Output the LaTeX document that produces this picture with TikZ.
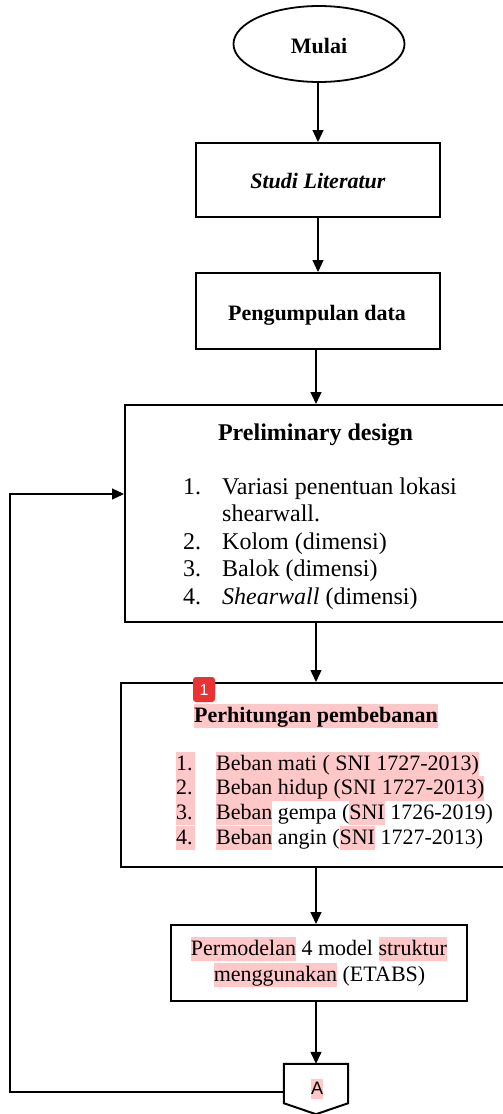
\documentclass[tikz,border=0pt]{standalone}
\usepackage{fontspec}
\setmainfont{Liberation Serif}
\setsansfont{Liberation Sans}
\usetikzlibrary{arrows.meta,shapes.geometric,calc}
\definecolor{hlpink}{RGB}{255,200,200}
\definecolor{badgered}{RGB}{234,50,50}
\newcommand{\hlt}[1]{{\setlength{\fboxsep}{0pt}\colorbox{hlpink}{\rule[-0.27em]{0pt}{1.1em}#1}}}
\begin{document}
\begin{tikzpicture}[x=1pt,y=-1pt,
  boxst/.style={draw, line width=2pt, inner sep=0pt},
  arr/.style={line width=1.3pt, -{Triangle[length=12pt,width=11pt]}},
  txt/.style={inner sep=0pt, anchor=base},
  txl/.style={inner sep=0pt, anchor=base west},
  fA/.style={font=\fontsize{22}{26}\selectfont},
  fB/.style={font=\fontsize{24}{27.5}\selectfont},
  fC/.style={font=\fontsize{22}{24.7}\selectfont}]
\useasboundingbox (0,0) rectangle (503,1114);
\fill[white] (0,0) rectangle (503,1114);

% shapes
\node[ellipse, draw, line width=1.8pt, minimum width=171pt, minimum height=76pt, inner sep=0pt] (mulai) at (319,44) {};
\node[boxst, minimum width=244pt, minimum height=74pt] (studi) at (318,180) {};
\node[boxst, minimum width=244pt, minimum height=76pt] (kumpul) at (318,311) {};
\node[boxst, minimum width=385pt, minimum height=217pt] (prelim) at (317.5,513.5) {};
\node[boxst, minimum width=389pt, minimum height=184pt] (hitung) at (315.5,775) {};
\node[boxst, minimum width=296pt, minimum height=76pt] (model) at (319,963) {};
\node[minimum width=64pt, minimum height=50pt, inner sep=0pt] (A) at (316,1089) {};
\draw[line width=2pt, line join=miter]
  (A.north west) -- (A.north east) -- ($(A.south east)+(0,-11)$) -- (A.south) -- ($(A.south west)+(0,-11)$) -- cycle;

% texts
\node[txt, fA] (tmulai) at (319,53) {\textbf{Mulai}};
\node[txt, fA] (tstudi) at (318,188) {\textbf{\textit{Studi Literatur}}};
\node[txt, fA] (tkumpul) at (317,320) {\textbf{Pengumpulan data}};

\node[txt, fB] (tprelim) at (315.5,440) {\textbf{Preliminary design}};
\node[txl, fB] (p1n) at (183,494) {1.};
\node[txl, fB] (p1a) at (222,494) {Variasi penentuan lokasi};
\node[txl, fB] (p1b) at (222,521.5) {shearwall.};
\node[txl, fB] (p2n) at (183,549) {2.};
\node[txl, fB] (p2) at (222,549) {Kolom (dimensi)};
\node[txl, fB] (p3n) at (183,576.5) {3.};
\node[txl, fB] (p3) at (222,576.5) {Balok (dimensi)};
\node[txl, fB] (p4n) at (183,604) {4.};
\node[txl, fB] (p4) at (222,604) {\textit{Shearwall} (dimensi)};

\node[txt, fA] (thitung) at (316,722) {\hlt{\textbf{Perhitungan pembebanan}}};
\node[txl, fC] (h1n) at (176,770) {\hlt{1.\hspace{2pt}}};
\node[txl, fC] (h1) at (216,770) {\hlt{Beban mati ( SNI 1727-2013)}};
\node[txl, fC] (h2n) at (176,794.7) {\hlt{2.\hspace{2pt}}};
\node[txl, fC] (h2) at (216,794.7) {\hlt{Beban hidup (SNI 1727-2013)}};
\node[txl, fC] (h3n) at (176,819.3) {\hlt{3.\hspace{2pt}}};
\node[txl, fC] (h3) at (216,819.3) {\hlt{Beban} gempa (\hlt{SNI} 1726-2019)};
\node[txl, fC] (h4n) at (176,844) {\hlt{4.\hspace{2pt}}};
\node[txl, fC] (h4) at (216,844) {\hlt{Beban} angin (\hlt{SNI} 1727-2013)};

\node[txt, fA] (tmodel1) at (319,955) {\hlt{Permodelan} 4 model \hlt{struktur}};
\node[txt, fA] (tmodel2) at (319.5,981) {\hlt{menggunakan} (ETABS)};

\node[inner sep=0pt, font=\sffamily\fontsize{18}{20}\selectfont] (tA) at (317,1089) {\hlt{A}};

\node[fill=badgered, rounded corners=3pt, minimum width=22pt, minimum height=25pt, inner sep=0pt, text=white, font=\sffamily\fontsize{16}{18}\selectfont] (badge) at (204,689.5) {1};

% connectors
\draw[arr] (mulai.south -| studi.north) -- (studi.north);
\draw[arr] (studi.south) -- (kumpul.north);
\draw[arr] (kumpul.south -| 316,0) -- (prelim.north -| 316,0);
\draw[arr] (prelim.south -| 316,0) -- (hitung.north -| 316,0);
\draw[arr] (hitung.south -| 316,0) -- (model.north -| 316,0);
\draw[arr] (model.south -| 316,0) -- (A.north -| 316,0);
\coordinate (c1) at (10,1092);
\coordinate (c2) at (10,494);
\draw[arr] (A.west |- c1) -- (c1) -- (c2) -- (prelim.west |- c2);
\end{tikzpicture}
\end{document}
